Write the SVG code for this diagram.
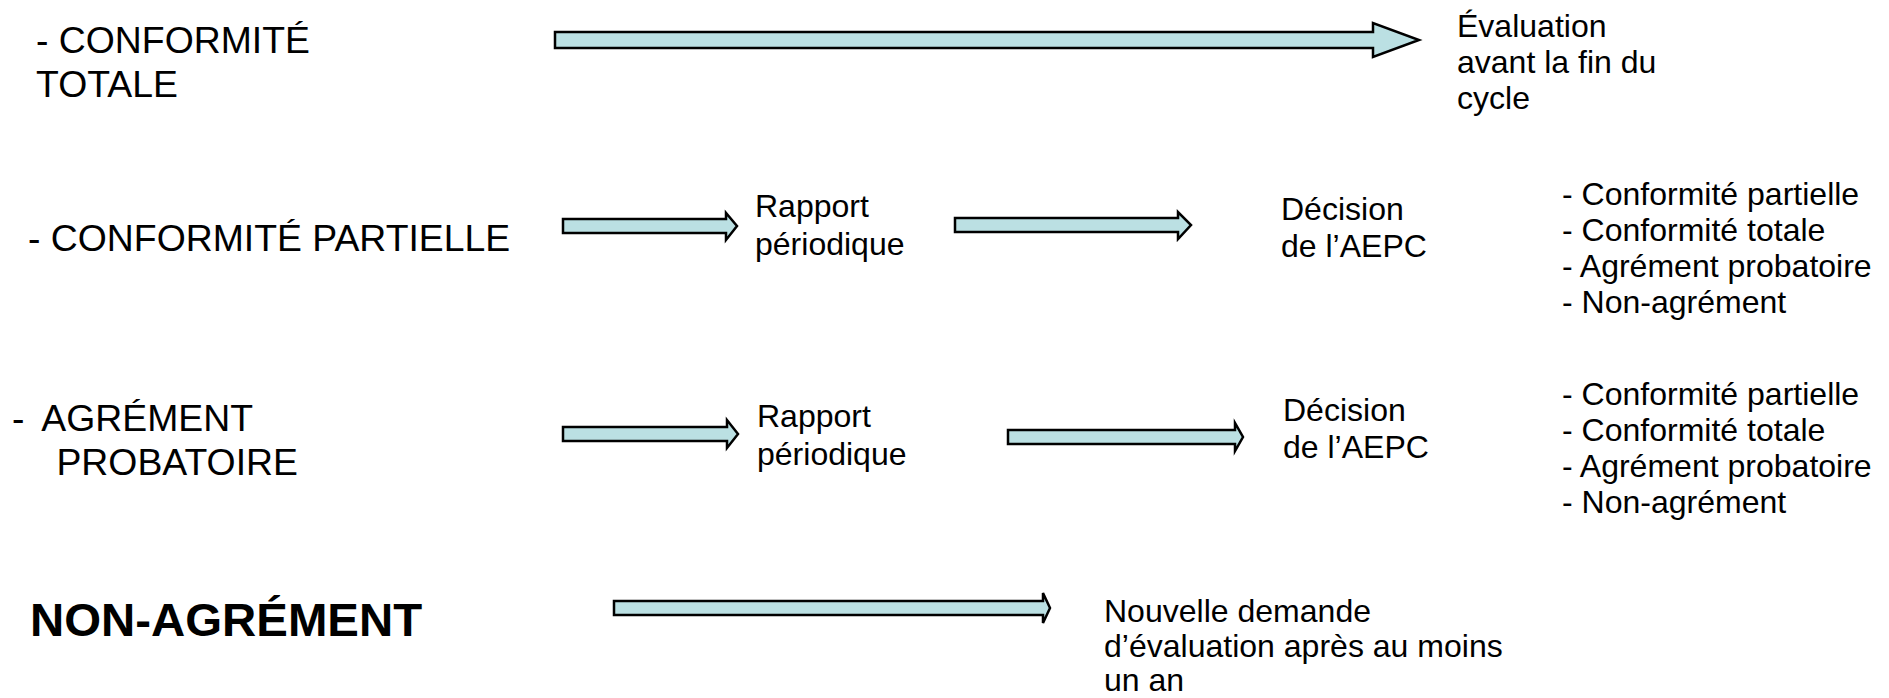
<svg xmlns="http://www.w3.org/2000/svg" width="1889" height="698" viewBox="0 0 1889 698">
<style>
.bg{fill:#ffffff}
.lbl{font-family:"Liberation Sans",Arial,sans-serif;font-size:37px;fill:#000}
.txt{font-family:"Liberation Sans",Arial,sans-serif;font-size:30.5px;fill:#000}
.bold{font-family:"Liberation Sans",Arial,sans-serif;font-size:46px;font-weight:bold;fill:#000}
.arr{fill:#BBE0E3;stroke:#000;stroke-width:2.5;stroke-linejoin:miter}
</style>
<rect class="bg" x="0" y="0" width="1889" height="698"/>
<g id="connectors">
<polygon class="arr" points="555,32 1373,32 1373,23 1419,40 1373,57 1373,48 555,48"/>
<polygon class="arr" points="563,219 726,219 726,213 737,226 726,240 726,233 563,233"/>
<polygon class="arr" points="955,218 1178,218 1178,212 1191,225 1178,239 1178,232 955,232"/>
<polygon class="arr" points="563,427 727,427 727,420 738,434 727,448 727,441 563,441"/>
<polygon class="arr" points="1008,430 1235,430 1235,423 1243,437 1235,451 1235,444 1008,444"/>
<polygon class="arr" points="614,601 1043,601 1043,593 1050,608 1043,623 1043,615 614,615"/>
</g>
<g id="conformite-totale">
<text class="lbl" transform="translate(36,53) scale(1.01,1)"><tspan x="0" y="0">- CONFORMITÉ</tspan><tspan x="0" y="44">TOTALE</tspan></text>
</g>
<g id="evaluation">
<text class="txt" transform="translate(1457,37) scale(1.05,1)"><tspan x="0" y="0">Évaluation</tspan><tspan x="0" y="36">avant la fin du</tspan><tspan x="0" y="72">cycle</tspan></text>
</g>
<g id="conformite-partielle">
<text class="lbl" transform="translate(28,251) scale(1.01,1)">- CONFORMITÉ PARTIELLE</text>
</g>
<g id="rapport-1">
<text class="txt" transform="translate(755,217) scale(1.05,1)"><tspan x="0" y="0">Rapport</tspan><tspan x="0" y="38">périodique</tspan></text>
</g>
<g id="decision-1">
<text class="txt" transform="translate(1281,220) scale(1.05,1)"><tspan x="0" y="0">Décision</tspan><tspan x="0" y="37">de l’AEPC</tspan></text>
</g>
<g id="options-1">
<text class="txt" transform="translate(1562,205) scale(1.05,1)"><tspan x="0" y="0">- Conformité partielle</tspan><tspan x="0" y="36">- Conformité totale</tspan><tspan x="0" y="72">- Agrément probatoire</tspan><tspan x="0" y="108">- Non-agrément</tspan></text>
</g>
<g id="agrement-probatoire">
<text class="lbl" transform="translate(12,431) scale(1.01,1)"><tspan x="0" y="0">-</tspan><tspan x="29" y="0">AGRÉMENT</tspan><tspan x="44" y="44">PROBATOIRE</tspan></text>
</g>
<g id="rapport-2">
<text class="txt" transform="translate(757,427) scale(1.05,1)"><tspan x="0" y="0">Rapport</tspan><tspan x="0" y="38">périodique</tspan></text>
</g>
<g id="decision-2">
<text class="txt" transform="translate(1283,421) scale(1.05,1)"><tspan x="0" y="0">Décision</tspan><tspan x="0" y="37">de l’AEPC</tspan></text>
</g>
<g id="options-2">
<text class="txt" transform="translate(1562,405) scale(1.05,1)"><tspan x="0" y="0">- Conformité partielle</tspan><tspan x="0" y="36">- Conformité totale</tspan><tspan x="0" y="72">- Agrément probatoire</tspan><tspan x="0" y="108">- Non-agrément</tspan></text>
</g>
<g id="non-agrement">
<text class="bold" transform="translate(30,636) scale(1.03,1)">NON-AGRÉMENT</text>
</g>
<g id="nouvelle-demande">
<text class="txt" transform="translate(1104,622) scale(1.05,1)"><tspan x="0" y="0">Nouvelle demande</tspan><tspan x="0" y="35">d’évaluation après au moins</tspan><tspan x="0" y="69">un an</tspan></text>
</g>
</svg>
